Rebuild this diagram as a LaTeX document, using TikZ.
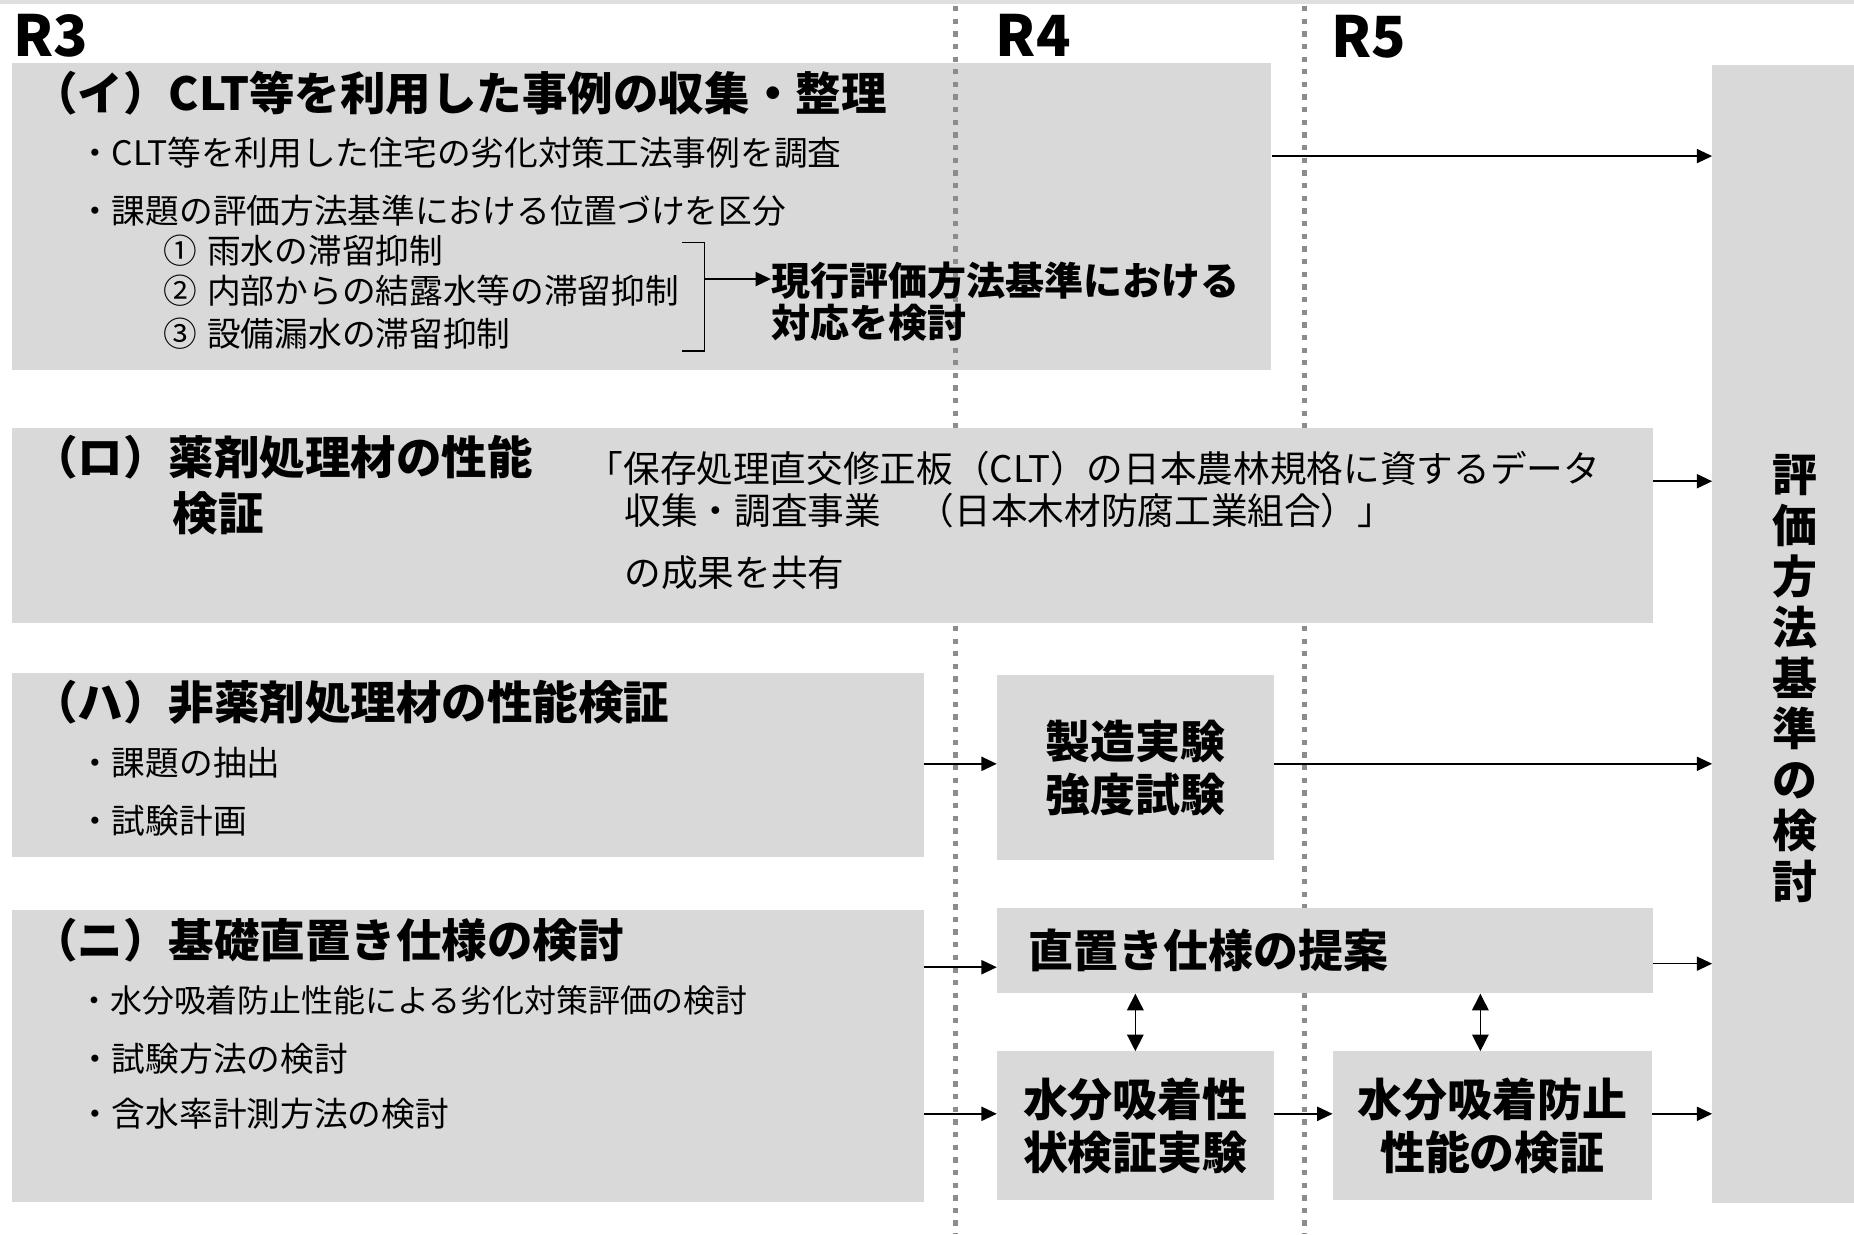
\documentclass[tikz,border=0pt]{standalone}
\usepackage{fontspec}
\setmainfont{Noto Sans CJK JP}
\usetikzlibrary{arrows.meta}
\definecolor{boxgray}{HTML}{D9D9D9}
\definecolor{dotgray}{HTML}{8C8C8C}
\begin{document}
\begin{tikzpicture}[x=1pt,y=-1pt,
  box/.style={fill=boxgray,draw=none,inner sep=0pt,anchor=north west},
  txt/.style={anchor=west,inner sep=0pt,font=\fontsize{28.5pt}{34pt}\selectfont},
  txtro/.style={anchor=west,inner sep=0pt,font=\fontsize{31pt}{36pt}\selectfont},
  ttl/.style={anchor=west,inner sep=0pt,font=\fontsize{38.5pt}{42pt}\selectfont\bfseries},
  yr/.style={anchor=west,inner sep=0pt,font=\fontsize{48pt}{50pt}\selectfont\bfseries},
  btxt/.style={inner sep=0pt,align=center,font=\fontsize{38pt}{45pt}\selectfont\bfseries},
  arr/.style={-{Triangle[length=13pt,width=12pt]},line width=1.3pt},
  dbl/.style={{Triangle[length=14pt,width=14pt]}-{Triangle[length=14pt,width=14pt]},line width=1.1pt},
  dotline/.style={dotgray,line width=4.5pt,dash pattern=on 4.5pt off 6.2pt}]
\useasboundingbox (0,0) rectangle (1568,1044);
\fill[white] (0,0) rectangle (1568,1044);
\fill[gray!25] (0,0) rectangle (1568,3);

% box (i)
\node[box,minimum width=1065pt,minimum height=260pt] (bI) at (10,53) {};
% dotted year separators
\draw[dotline] (808,5) -- (808,1044);
\draw[dotline] (1103,5) -- (1103,1044);
% other boxes
\node[box,minimum width=120pt,minimum height=962pt] (bR) at (1448,55) {};
\node[box,minimum width=1388pt,minimum height=165pt] (bRo) at (10,362) {};
\node[box,minimum width=771pt,minimum height=156pt] (bHa) at (10,569) {};
\node[box,minimum width=234pt,minimum height=156pt] (bM) at (843,571) {};
\node[box,minimum width=771pt,minimum height=247pt] (bNi) at (10,769) {};
\node[box,minimum width=555pt,minimum height=72pt] (bP) at (843,768) {};
\node[box,minimum width=234pt,minimum height=126pt] (bS) at (843,889) {};
\node[box,minimum width=270pt,minimum height=126pt] (bV) at (1127,889) {};

% year labels
\node[yr] (r3) at (11,30) {R3};
\node[yr] (r4) at (842,30) {R4};
\node[yr] (r5) at (1126,31) {R5};

% (i)
\node[ttl] (tI) at (27,79) {（イ）CLT等を利用した事例の収集・整理};
\node[txt] (i1) at (66,129) {・CLT等を利用した住宅の劣化対策工法事例を調査};
\node[txt] (i2) at (66,178) {・課題の評価方法基準における位置づけを区分};
\node[txt] (i3) at (138,212) {①\hspace{0.3em}雨水の滞留抑制};
\node[txt] (i4) at (138,246) {②\hspace{0.3em}内部からの結露水等の滞留抑制};
\node[txt] (i5) at (138,282) {③\hspace{0.3em}設備漏水の滞留抑制};
\node[anchor=west,inner sep=0pt,align=left,font=\fontsize{33pt}{36pt}\selectfont\bfseries] (ires) at (652,255) {現行評価方法基準における\\対応を検討};
\draw[line width=1.2pt] (577,205) -- (596,205) -- (596,297) -- (577,297);
\draw[arr] (596,236) -- (ires.west |- 0,236);

% (ro)
\node[ttl] (tRo) at (27,387) {（ロ）薬剤処理材の性能};
\node[ttl] (tRo2) at (146,434) {検証};
\node[txtro] (ro1) at (496,396) {「保存処理直交修正板（CLT）の日本農林規格に資するデータ};
\node[txtro] (ro2) at (528,432) {収集・調査事業　（日本木材防腐工業組合）」};
\node[txtro] (ro3) at (528,484) {の成果を共有};

% (ha)
\node[ttl] (tHa) at (27,594) {（ハ）非薬剤処理材の性能検証};
\node[txt] (ha1) at (66,645) {・課題の抽出};
\node[txt] (ha2) at (66,694) {・試験計画};

% (ni)
\node[ttl] (tNi) at (27,795) {（ニ）基礎直置き仕様の検討};
\node[txt,font=\fontsize{27pt}{34pt}\selectfont] (ni1) at (66,846) {・水分吸着防止性能による劣化対策評価の検討};
\node[txt] (ni2) at (66,895) {・試験方法の検討};
\node[txt] (ni3) at (66,942) {・含水率計測方法の検討};

% box texts
\node[btxt] (mT) at (bM.center) {製造実験\\強度試験};
\node[btxt,anchor=west] (pT) at (870,804) {直置き仕様の提案};
\node[btxt] (sT) at (bS.center) {水分吸着性\\状検証実験};
\node[btxt] (vT) at (bV.center) {水分吸着防止\\性能の検証};
\node[inner sep=0pt,align=center,font=\fontsize{38pt}{43pt}\selectfont\bfseries] (rT) at (1518,574) {評\\価\\方\\法\\基\\準\\の\\検\\討};

% connectors
\draw[arr] (bI.east |- 0,132) -- (bR.west |- 0,132);
\draw[arr] (bRo.east |- 0,407) -- (bR.west |- 0,407);
\draw[arr] (bHa.east |- 0,646) -- (bM.west |- 0,646);
\draw[arr] (bM.east |- 0,646) -- (bR.west |- 0,646);
\draw[arr] (bNi.east |- 0,818) -- (bP.west |- 0,818);
\draw[arr] (bNi.east |- 0,942) -- (bS.west |- 0,942);
\draw[arr] (bP.east |- 0,815) -- (bR.west |- 0,815);
\draw[arr] (bS.east |- 0,942) -- (bV.west |- 0,942);
\draw[arr] (bV.east |- 0,942) -- (bR.west |- 0,942);
\draw[dbl] (bS.north |- bP.south) -- (bS.north);
\coordinate (vtop) at (1252,889);
\draw[dbl] (vtop |- bP.south) -- (vtop);
\end{tikzpicture}
\end{document}
